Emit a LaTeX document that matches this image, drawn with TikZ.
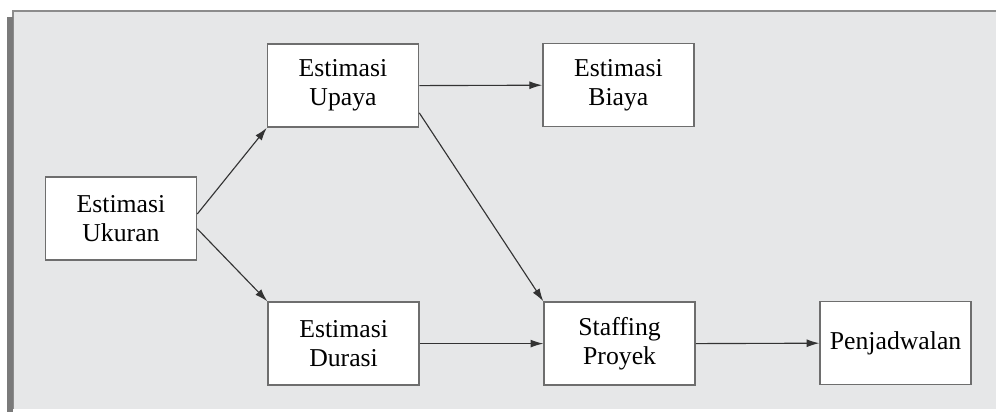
\documentclass[tikz,border=0pt]{standalone}
\usepackage{fontspec}
\setmainfont{Liberation Serif}
\usetikzlibrary{arrows.meta}
\definecolor{panelgray}{HTML}{E6E7E8}
\definecolor{bordergray}{HTML}{8C8C8C}
\definecolor{shadowgray}{HTML}{7A7A7A}
\definecolor{boxgray}{HTML}{6E6E6E}
\definecolor{linegray}{HTML}{333333}
\begin{document}
\begin{tikzpicture}[box/.style={draw=boxgray, fill=white, line width=1.1pt, minimum width=3.775cm, minimum height=2.075cm, align=center, font=\fontsize{18.3}{20.8}\selectfont}, link/.style={-{Latex[length=0.32cm,width=0.2cm]}, draw=linegray, line width=0.8pt}]
\useasboundingbox (0,0) rectangle (24.9,10.3);
\fill [panelgray] (0.325,0.075) rectangle (24.9,10.025);
\draw [bordergray, line width=0.8pt] (0.325,0.075) -- (0.325,10.025) -- (24.9,10.025);
\fill [shadowgray] (0.175,0) rectangle (0.325,9.875);
\node [box] (ukuran) at (3.025,4.84) {Estimasi\\Ukuran};
\node [box] (upaya) at (8.575,8.16) {Estimasi\\Upaya};
\node [box] (biaya) at (15.46,8.17) {Estimasi\\Biaya};
\node [box] (durasi) at (8.59,1.71) {Estimasi\\Durasi};
\node [box] (staffing) at (15.49,1.71) {Staffing\\Proyek};
\node [box] (penjadwalan) at (22.39,1.72) {Penjadwalan};
\draw [link] ([yshift=0.11cm]ukuran.east) -- (upaya.south west);
\draw [link] ([yshift=-0.26cm]ukuran.east) -- (durasi.north west);
\draw [link] (upaya.east) -- (biaya.west);
\draw [link] ([yshift=0.375cm]upaya.south east) -- (staffing.north west);
\draw [link] (durasi.east) -- (staffing.west);
\draw [link] (staffing.east) -- (penjadwalan.west);
\end{tikzpicture}
\end{document}
